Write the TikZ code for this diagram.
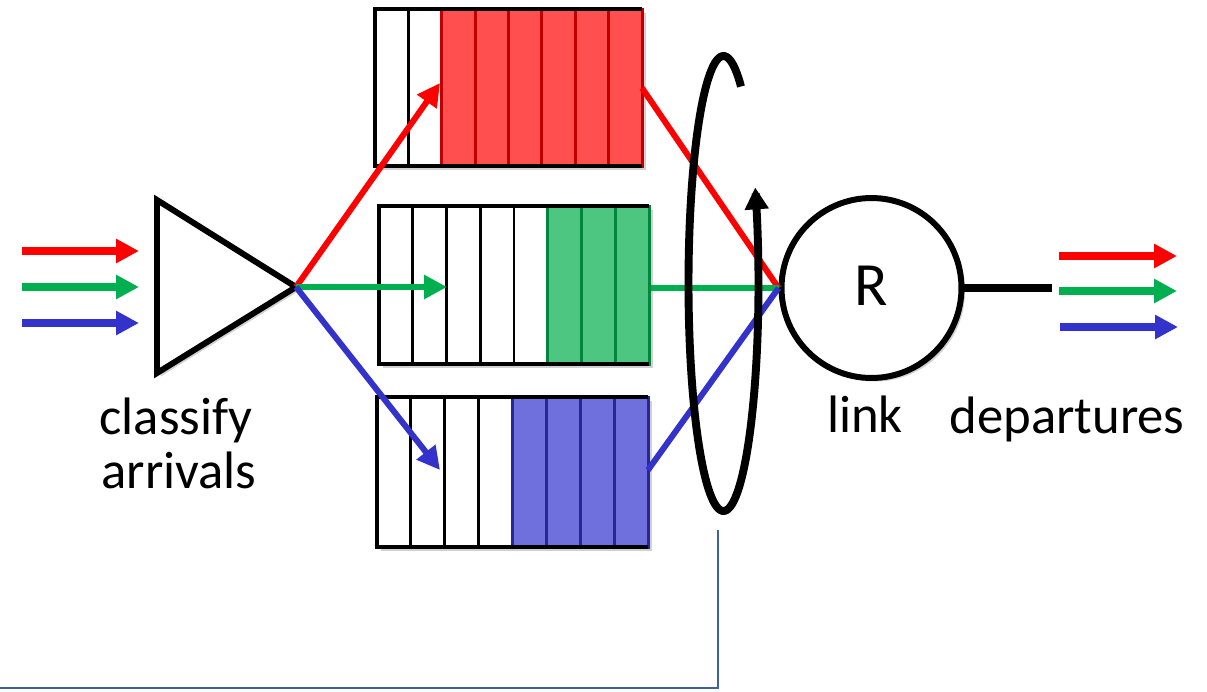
\documentclass[tikz,border=0pt]{standalone}
\usepackage{fontspec}
\setmainfont{Carlito}
\usetikzlibrary{arrows.meta,shadows}
\definecolor{cred}{HTML}{FF0000}
\definecolor{redfill}{HTML}{FF4F4F}
\definecolor{reddark}{HTML}{C00000}
\definecolor{cgreen}{HTML}{00B050}
\definecolor{greenfill}{HTML}{4CC680}
\definecolor{greendark}{HTML}{00873C}
\definecolor{cblue}{HTML}{3333CC}
\definecolor{bluefill}{HTML}{6F6FDD}
\definecolor{bluedark}{HTML}{262699}
\definecolor{navyline}{HTML}{3F5F9F}
\newcommand{\drawqueue}[7]{%
  \fill[white, qshadow] (#1,#3) rectangle (#2,#4);
  \pgfmathsetmacro{\qcellw}{(#2-#1)/8}
  \pgfmathsetmacro{\qstartx}{#1+#5*\qcellw}
  \filldraw[fill=#6, draw=#7, line width=1.7pt] (\qstartx,#3) rectangle (#2,#4);
  \foreach \i in {1,...,7}{%
    \pgfmathsetmacro{\qxpos}{#1+\i*\qcellw}
    \ifnum\i<#5 \draw[divider] (\qxpos,#3) -- (\qxpos,#4);
    \else \draw[divider, draw=#7] (\qxpos,#3) -- (\qxpos,#4); \fi
  }
  \draw[qframe] (#2,#3) -- (#1,#3) -- (#1,#4) -- (#2,#4);
}
\begin{document}
\begin{tikzpicture}[x=0.02cm, y=-0.02cm,
  qshadow/.style={drop shadow={shadow xshift=2pt, shadow yshift=-2pt, opacity=0.18, fill=black}},
  divider/.style={line width=1.7pt, draw=black},
  qframe/.style={line width=2.3pt, draw=black, line join=miter},
  inarrow/.style={line width=4.5pt, -{Triangle[length=13pt, width=13pt]}},
  classarrow/.style={line width=3.4pt, -{Triangle[length=13pt, width=13pt]}},
  outline/.style={line width=3.4pt},
  label/.style={font=\fontsize{30}{33}\selectfont, anchor=base, inner sep=0pt}]
\useasboundingbox (0,0) rectangle (1207,691);

% queues
\drawqueue{375}{642}{9}{166}{2}{redfill}{reddark}
\drawqueue{379}{649}{206}{364}{5}{greenfill}{greendark}
\drawqueue{377}{648}{397}{547}{4}{bluefill}{bluedark}

% named points on queues
\coordinate (q1in) at (440,83);
\coordinate (q2in) at (447,287);
\coordinate (q3in) at (440,470);
\coordinate (q1out) at (642,88);
\coordinate (q2out) at (651,288);
\coordinate (q3out) at (648,470);

% classifier triangle
\draw[line width=3.4pt, line join=miter, fill=white, qshadow] (157,200) -- (296,287) -- (157,373) -- cycle;
\coordinate (tip) at (296,287);

% input arrows
\coordinate (a1s) at (22,251); \coordinate (a1e) at (139,251);
\coordinate (a2s) at (22,287); \coordinate (a2e) at (139,287);
\coordinate (a3s) at (22,323); \coordinate (a3e) at (139,323);
\draw[inarrow, cred] (a1s) -- (a1e);
\draw[inarrow, cgreen] (a2s) -- (a2e);
\draw[inarrow, cblue] (a3s) -- (a3e);

% classify arrows
\draw[classarrow, cred] (tip) -- (q1in);
\draw[classarrow, cgreen] (tip) -- (q2in);
\draw[classarrow, cblue] (tip) -- (q3in);

% link
\node[circle, draw, line width=3.4pt, fill=white, minimum size=3.6cm, inner sep=0pt, qshadow] (link) at (871.5,288) {};
\node[font=\fontsize{35}{38}\selectfont, anchor=base, inner sep=0pt] (rlabel) at (871.5,305) {R};

% queue to link
\draw[outline, cred] (q1out) -- (link.west);
\draw[outline, cgreen] (q2out) -- (link.west);
\draw[outline, cblue] (q3out) -- (link.west);

% scheduler ellipse
\draw[line width=4.5pt, -{Triangle[length=12.5pt, width=13pt]}]
  plot[domain=60:385, samples=140, smooth] ({723.5+35*cos(\x)},{283.5-227.5*sin(\x)});

% output line
\coordinate (oute) at (1052,288);
\draw[line width=4pt] (link.east) -- (oute);

% output arrows
\coordinate (b1s) at (1059,256); \coordinate (b1e) at (1177,256);
\coordinate (b2s) at (1059,291); \coordinate (b2e) at (1177,291);
\coordinate (b3s) at (1060,327); \coordinate (b3e) at (1178,327);
\draw[inarrow, cred] (b1s) -- (b1e);
\draw[inarrow, cgreen] (b2s) -- (b2e);
\draw[inarrow, cblue] (b3s) -- (b3e);

% labels
\node[label] (cls) at (176,434) {classify};
\node[label] (arr) at (179,488) {arrivals};
\node[label] (lnk) at (865,432) {link};
\node[label] (dep) at (1067,433) {departures};

% bottom connector
\coordinate (eb) at (718,530);
\coordinate (le) at (0,688);
\draw[navyline, line width=1.3pt] (eb) |- (le);
\end{tikzpicture}
\end{document}
